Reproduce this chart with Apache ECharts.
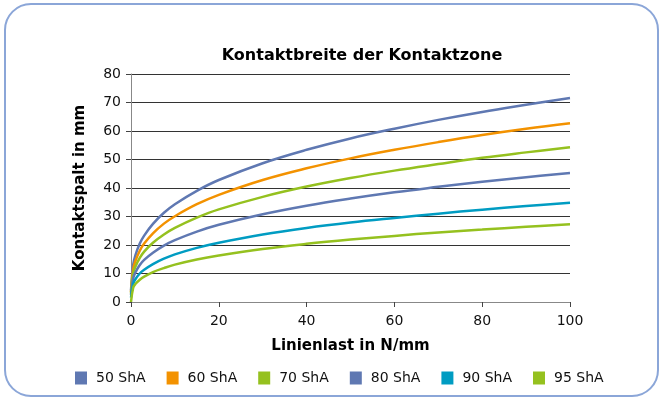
<!DOCTYPE html>
<html>
<head>
<meta charset="utf-8">
<script src="https://cdn.jsdelivr.net/npm/echarts@6/dist/echarts.min.js"></script>
<style>
  html, body { margin: 0; padding: 0; background: #fff; }
  #chart { width: 663px; height: 401px; }
</style>
</head>
<body>
<div id="chart"></div>
<script>
// Linienlast in N/mm (x values)
const loads = [0, 0.5, 1, 2, 3, 5, 7.5, 10, 15, 20, 30, 40, 50, 60, 70, 80, 90, 100];

// Kontaktspalt in mm
const sha50 = [4, 13.1, 16.4, 20.5, 23.3, 27.4, 31.3, 34.3, 39.0, 42.8, 48.7, 53.4, 57.4, 60.8, 63.9, 66.7, 69.2, 71.6];
const sha60 = [3.5, 11.5, 14.4, 18.0, 20.5, 24.1, 27.5, 30.1, 34.3, 37.6, 42.8, 46.9, 50.4, 53.4, 56.1, 58.6, 60.8, 62.7];
const sha70 = [3, 10.0, 12.4, 15.5, 17.7, 20.8, 23.7, 26.0, 29.6, 32.5, 36.9, 40.5, 43.5, 46.1, 48.4, 50.6, 52.5, 54.3];
const sha80 = [2.5, 8.3, 10.4, 13.0, 14.8, 17.3, 19.8, 21.7, 24.7, 27.1, 30.8, 33.8, 36.3, 38.5, 40.4, 42.2, 43.8, 45.3];
const sha90 = [1.5, 6.4, 8.0, 10.0, 11.3, 13.3, 15.2, 16.7, 19.0, 20.8, 23.7, 26.0, 27.9, 29.5, 31.0, 32.4, 33.7, 34.8];
const sha95 = [0, 5.0, 6.3, 7.8, 8.9, 10.5, 11.9, 13.1, 14.9, 16.3, 18.6, 20.4, 21.9, 23.2, 24.4, 25.4, 26.4, 27.3];

const seriesNames = ['50 ShA', '60 ShA', '70 ShA', '80 ShA', '90 ShA', '95 ShA'];
const seriesData = [sha50, sha60, sha70, sha80, sha90, sha95];
const colors = ['#5F78B2', '#F39200', '#95C11F', '#5F78B2', '#009CC2', '#95C11F'];

const chart = echarts.init(document.getElementById('chart'));

const option = {
  animation: false,
  textStyle: { fontFamily: 'DejaVu Sans, sans-serif' },
  graphic: [{
    type: 'rect',
    shape: { x: 5, y: 4, width: 653, height: 392, r: 26 },
    style: { fill: '#fff', stroke: '#8BA6D8', lineWidth: 2 },
    z: -10
  }],
  title: {
    text: 'Kontaktbreite der Kontaktzone',
    left: 357,
    top: 43,
    textAlign: 'center',
    textStyle: { fontSize: 16, fontWeight: 'bold', color: '#000' }
  },
  legend: {
    top: 366,
    left: 70,
    itemWidth: 12,
    itemHeight: 13,
    itemGap: 21,
    icon: 'rect',
    textStyle: { fontSize: 14, color: '#111', padding: [0, 0, 0, 4] },
    data: seriesNames
  },
  grid: { left: 131, right: 93, top: 74, bottom: 99 },
  xAxis: {
    type: 'value',
    min: 0,
    max: 100,
    interval: 20,
    name: 'Linienlast in N/mm',
    nameLocation: 'middle',
    nameGap: 37,
    nameTextStyle: { fontSize: 15, fontWeight: 'bold', color: '#000' },
    axisLine: { lineStyle: { color: '#888', width: 1 } },
    axisTick: { show: true, length: 5, lineStyle: { color: '#444' } },
    axisLabel: { fontSize: 14, color: '#111', margin: 12 },
    splitLine: { show: false }
  },
  yAxis: {
    type: 'value',
    min: 0,
    max: 80,
    interval: 10,
    name: 'Kontaktspalt in mm',
    nameLocation: 'middle',
    nameGap: 43,
    nameTextStyle: { fontSize: 15, fontWeight: 'bold', color: '#000' },
    axisLine: { show: true, lineStyle: { color: '#888', width: 1 } },
    axisTick: { show: true, length: 5, lineStyle: { color: '#444' } },
    axisLabel: { fontSize: 14, color: '#111', margin: 10 },
    splitLine: { lineStyle: { color: '#333', width: 1 } }
  },
  series: seriesNames.map((name, i) => ({
    name,
    type: 'line',
    data: loads.map((x, j) => [x, seriesData[i][j]]),
    smooth: 0.4,
    showSymbol: false,
    lineStyle: { width: 2.5, color: colors[i] },
    itemStyle: { color: colors[i] }
  }))
};

chart.setOption(option);
</script>
</body>
</html>
